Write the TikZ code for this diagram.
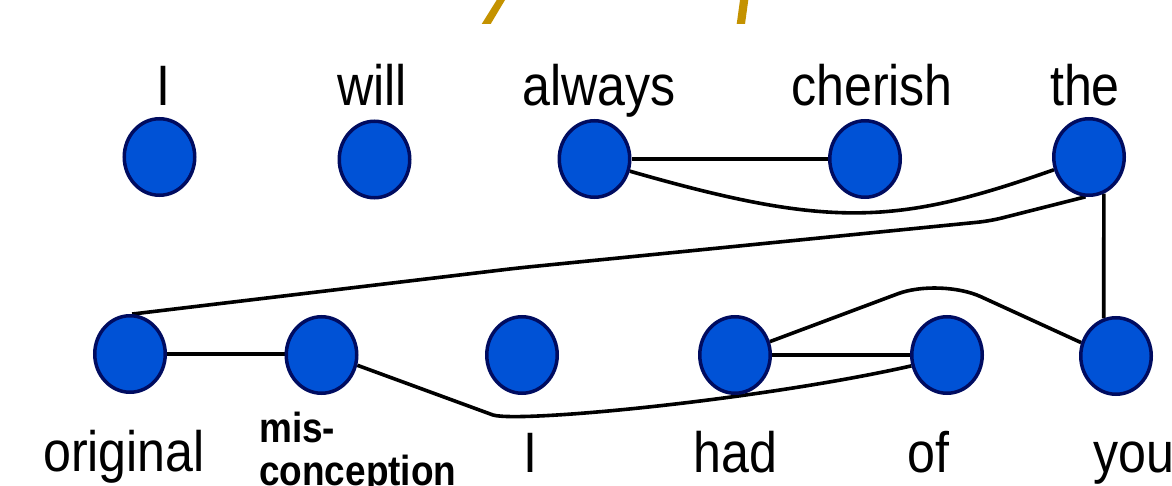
\documentclass[tikz,border=0pt]{standalone}
\usepackage{fontspec}
\usetikzlibrary{shapes.geometric,backgrounds}
\newfontfamily\lab[FakeStretch=0.88]{Liberation Sans}
\definecolor{tokfill}{RGB}{0,82,214}
\definecolor{tokline}{RGB}{0,12,96}
\definecolor{gold}{RGB}{196,146,0}
\tikzset{
  tok/.style={ellipse, draw=tokline, fill=tokfill, line width=3.5pt,
    minimum width=70.5pt, minimum height=76.5pt, inner sep=0pt},
  word/.style={anchor=base, inner sep=0pt, font=\lab\fontsize{57}{60}\selectfont},
  smallword/.style={anchor=base west, inner sep=0pt,
    font=\lab\bfseries\fontsize{42}{42}\selectfont},
  link/.style={line width=3.6pt, black},
}
\begin{document}
\begin{tikzpicture}[x=1pt, y=-1pt]
\useasboundingbox (0,0) rectangle (1172,486);
\clip (0,0) rectangle (1172,486);

% strokes running off the top edge
\fill[gold] (481.7,24) -- (490.7,24) -- (505,0) -- (496.7,0) -- cycle;
\fill[gold] (736.7,24) -- (745,24) -- (748.3,0) -- (740,0) -- cycle;

% upper sentence
\node[tok] (t1) at (159.5,157) {};
\node[tok] (t2) at (374.5,159.5) {};
\node[tok] (t3) at (594.5,159) {};
\node[tok] (t4) at (865,159) {};
\node[tok] (t5) at (1089,157) {};

\node[word] (w1) at (163,106) {I};
\node[word] (w2) at (372,106) {will};
\node[word] (w3) at (599,106) {always};
\node[word] (w4) at (872,106) {cherish};
\node[word] (w5) at (1085,106) {the};

% lower sentence
\node[tok] (b1) at (130,354) {};
\node[tok] (b2) at (321.5,355) {};
\node[tok] (b3) at (522,355) {};
\node[tok] (b4) at (735,355) {};
\node[tok] (b5) at (947,355) {};
\node[tok] (b6) at (1116,356) {};

\node[word] (v1) at (124,471) {original};
\node[smallword] (v2a) at (259,442) {mis-};
\node[smallword] (v2b) at (259,485) {conception};
\node[word] (v3) at (530,472) {I};
\node[word] (v4) at (735.5,472) {had};
\node[word] (v5) at (928.5,472) {of};
\node[word, anchor=base west] (v6) at (1093,472) {you};

% alignment links
\coordinate (k1) at (990,221);
\coordinate (k2) at (518,268);
\coordinate (k3) at (940,278);
\coordinate (k4) at (493,415);
\begin{scope}[on background layer]
  \draw[link] (t3) -- (t4);
  \draw[link] (t3.-19) .. controls (831,229) and (897,225) .. (t5.200);
  \draw[link, rounded corners=12pt] (t5.265) -- (k1) -- (k2) -- (b1.87);
  \draw[link] (t5.-68) -- (b6.108);
  \draw[link] (b1) -- (b2 |- b1);
  \draw[link] (b4) -- (b5);
  \draw[link, rounded corners=45pt] (b4.21) -- (k3) -- (b6.159);
  \draw[link] (b2.-16) -- (k4) .. controls (520,423) and (760,400) .. (b5.197);
\end{scope}
\end{tikzpicture}
\end{document}
